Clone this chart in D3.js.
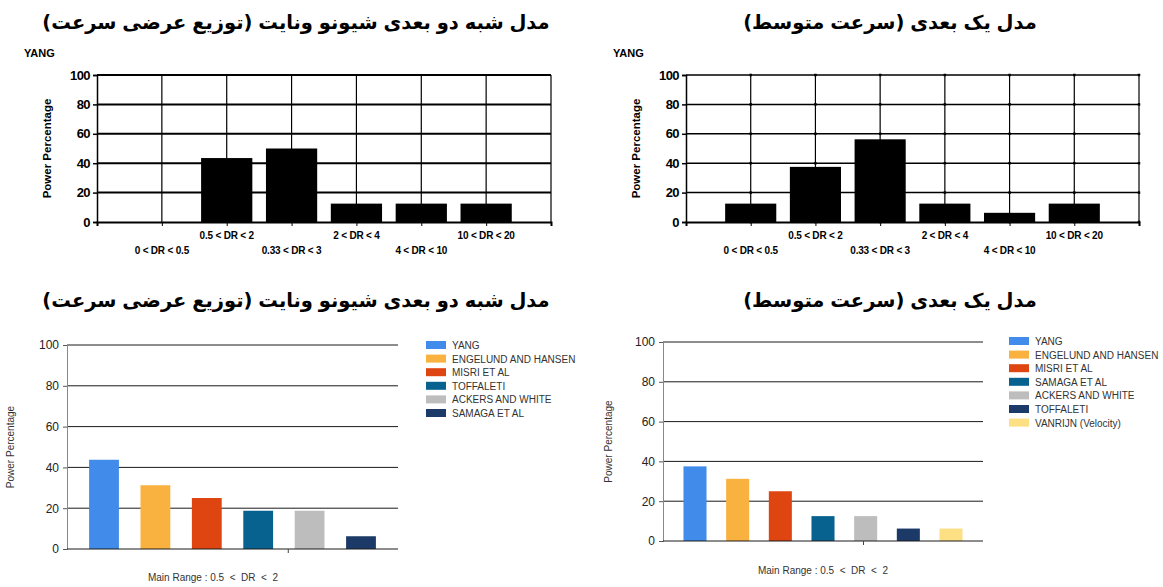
<!DOCTYPE html>
<html>
<head>
<meta charset="utf-8">
<script src="https://cdn.jsdelivr.net/npm/d3@7"></script>
<style>
  html, body { margin: 0; padding: 0; background: #fff; }
  svg { display: block; }
</style>
</head>
<body>
<svg id="chart" width="1163" height="587"></svg>
<script>
// ---------- DATA ----------
const titleLeft = "مدل شبه دو بعدی شیونو ونایت (توزیع عرضی سرعت)";
const titleRight = "مدل یک بعدی (سرعت متوسط)";

const rangeCategories = ["0 < DR < 0.5", "0.5 < DR < 2", "0.33 < DR < 3", "2 < DR < 4", "4 < DR < 10", "10 < DR < 20"];
const yangTwoDim = [0, 43.5, 50, 12.5, 12.5, 12.5];
const yangOneDim = [12.5, 37.5, 56.25, 12.5, 6.25, 12.5];

const methodsLeft = ["YANG", "ENGELUND AND HANSEN", "MISRI ET AL", "TOFFALETI", "ACKERS AND WHITE", "SAMAGA ET AL"];
const valuesLeft = [43.75, 31.25, 25, 18.75, 18.75, 6.25];
const methodsRight = ["YANG", "ENGELUND AND HANSEN", "MISRI ET AL", "SAMAGA ET AL", "ACKERS AND WHITE", "TOFFALETI", "VANRIJN (Velocity)"];
const valuesRight = [37.5, 31.25, 25, 12.5, 12.5, 6.25, 6.25];

const palette = ["#418BEA", "#F9B140", "#DE4511", "#07628F", "#BDBDBD", "#1C3A68", "#FDDF84"];
const yTicks = [0, 20, 40, 60, 80, 100];
const mainRangeLabel = "Main Range : 0.5  <  DR  <  2";
const yTitle = "Power Percentage";
const topSeriesLabel = "YANG";

// ---------- DRAW ----------
const svg = d3.select("#chart");
svg.append("rect").attr("width", 1163).attr("height", 587).attr("fill", "#fff");

const persianFont = "'DejaVu Sans', 'Noto Sans', sans-serif";
const latinFont = "'Liberation Sans', Arial, sans-serif";

function title(text, cx, y) {
  svg.append("text")
    .attr("x", cx).attr("y", y)
    .attr("text-anchor", "middle")
    .attr("direction", "rtl")
    .attr("font-family", persianFont)
    .attr("font-weight", "bold")
    .attr("font-size", 19.5)
    .attr("word-spacing", -1)
    .attr("fill", "#000")
    .text(text);
}

title(titleLeft, 296, 29);
title(titleRight, 890, 29);
title(titleLeft, 296, 307);
title(titleRight, 890, 307);

// Top (classic) charts
function topChart(cfg) {
  const g = svg.append("g");
  const x = d3.scaleLinear().domain([0, rangeCategories.length + 1]).range([cfg.x0, cfg.x1]);
  const y = d3.scaleLinear().domain([0, 100]).range([cfg.y0, cfg.y1]);
  const step = x(1) - x(0);
  const bw = step * 0.79;

  g.selectAll(".vg").data(d3.range(1, rangeCategories.length + 2)).join("line")
    .attr("x1", d => x(d)).attr("x2", d => x(d))
    .attr("y1", y(0)).attr("y2", y(100))
    .attr("stroke", "#000").attr("stroke-width", 1.2);
  g.selectAll(".hg").data(yTicks.filter(d => d > 0)).join("line")
    .attr("x1", x(0)).attr("x2", x(rangeCategories.length + 1))
    .attr("y1", d => y(d)).attr("y2", d => y(d))
    .attr("stroke", "#000").attr("stroke-width", cfg.hw);

  g.selectAll(".bar").data(cfg.values).join("rect")
    .attr("x", (d, i) => x(i + 1) - bw / 2)
    .attr("width", bw)
    .attr("y", d => y(d))
    .attr("height", d => y(0) - y(d))
    .attr("fill", "#000");

  if (cfg.markers) {
    const pts = [];
    d3.range(1, rangeCategories.length + 2).forEach(c => yTicks.forEach(t => pts.push([c, t])));
    g.selectAll(".mk").data(pts).join("rect")
      .attr("x", d => x(d[0]) - 1.25).attr("y", d => y(d[1]) - 1.25)
      .attr("width", 2.5).attr("height", 2.5).attr("fill", "#000");
  }

  const ya = g.append("g").attr("transform", `translate(${cfg.x0},0)`)
    .call(d3.axisLeft(y).tickValues(yTicks).tickSize(4).tickPadding(3));
  ya.select(".domain").attr("stroke", "#000").attr("stroke-width", 1.5);
  ya.selectAll(".tick line").attr("stroke", "#000").attr("stroke-width", 1.5);
  ya.selectAll("text").attr("font-family", latinFont).attr("font-weight", "bold")
    .attr("font-size", 13).attr("fill", "#000").attr("letter-spacing", -0.6);

  const xa = g.append("g").attr("transform", `translate(0,${cfg.y0})`)
    .call(d3.axisBottom(x).tickValues(d3.range(0, rangeCategories.length + 2)).tickSize(4).tickFormat(""));
  xa.select(".domain").attr("stroke", "#000").attr("stroke-width", 2);
  xa.selectAll(".tick line").attr("stroke", "#000").attr("stroke-width", 1);

  g.selectAll(".cl").data(rangeCategories).join("text")
    .attr("x", (d, i) => x(i + 1))
    .attr("y", (d, i) => i % 2 === 1 ? cfg.y0 + 17 : cfg.y0 + 32)
    .attr("text-anchor", "middle")
    .attr("font-family", latinFont).attr("font-weight", "bold")
    .attr("font-size", 10).attr("fill", "#000")
    .attr("letter-spacing", -0.2)
    .text(d => d);

  g.append("text")
    .attr("transform", `translate(${cfg.x0 - 46},${(cfg.y0 + cfg.y1) / 2}) rotate(-90)`)
    .attr("text-anchor", "middle")
    .attr("font-family", latinFont).attr("font-weight", "bold")
    .attr("font-size", 11.5).attr("fill", "#000")
    .text(yTitle);

  g.append("text")
    .attr("x", cfg.x0 - 73).attr("y", cfg.y1 - 18)
    .attr("font-family", latinFont).attr("font-weight", "bold")
    .attr("font-size", 11).attr("fill", "#000")
    .text(topSeriesLabel);
}

topChart({ x0: 97, x1: 551, y0: 222, y1: 75, values: yangTwoDim, hw: 2, markers: false });
topChart({ x0: 686, x1: 1139, y0: 222, y1: 75, values: yangOneDim, hw: 1.5, markers: true });

// Bottom (modern) charts
function bottomChart(cfg) {
  const g = svg.append("g");
  const x = d3.scaleBand().domain(cfg.names).range([cfg.x0, cfg.x1])
    .paddingInner(cfg.pi).paddingOuter(cfg.po);
  const y = d3.scaleLinear().domain([0, 100]).range([cfg.y0, cfg.y1]);
  const color = d3.scaleOrdinal().domain(cfg.names).range(palette);

  g.selectAll(".hg").data(yTicks.filter(d => d > 0)).join("line")
    .attr("x1", cfg.x0).attr("x2", cfg.x1)
    .attr("y1", d => y(d)).attr("y2", d => y(d))
    .attr("stroke", "#1a1a1a").attr("stroke-width", 1);

  g.selectAll(".bar").data(cfg.values).join("rect")
    .attr("x", (d, i) => x(cfg.names[i]))
    .attr("width", x.bandwidth())
    .attr("y", d => y(d))
    .attr("height", d => y(0) - y(d))
    .attr("fill", (d, i) => color(cfg.names[i]));

  const ya = g.append("g").attr("transform", `translate(${cfg.x0},0)`)
    .call(d3.axisLeft(y).tickValues(yTicks).tickSize(4).tickPadding(4));
  ya.select(".domain").attr("stroke", "#888").attr("stroke-width", 1);
  ya.selectAll(".tick line").attr("stroke", "#555");
  ya.selectAll("text").attr("font-family", latinFont)
    .attr("font-size", 12).attr("fill", "#222");

  const xa = g.append("g").attr("transform", `translate(0,${cfg.y0})`)
    .call(d3.axisBottom(d3.scaleLinear().domain([0, 1]).range([cfg.x0, cfg.x1]))
      .tickValues([cfg.tickFrac]).tickSize(4).tickFormat(""));
  xa.select(".domain").attr("stroke", "#1a1a1a").attr("stroke-width", 1).attr("d", `M${cfg.x0},0H${cfg.x1}`);
  xa.selectAll(".tick line").attr("stroke", "#444");

  g.append("text")
    .attr("transform", `translate(${cfg.ytx},${(cfg.y0 + cfg.y1) / 2}) rotate(-90)`)
    .attr("text-anchor", "middle")
    .attr("font-family", latinFont)
    .attr("font-size", 10).attr("fill", "#333")
    .text(yTitle);

  g.append("text")
    .attr("x", cfg.mrx).attr("y", cfg.mry)
    .attr("text-anchor", "middle")
    .attr("font-family", latinFont)
    .attr("font-size", 10).attr("fill", "#333")
    .attr("xml:space", "preserve")
    .style("white-space", "pre")
    .text(mainRangeLabel);

  const lg = g.append("g").attr("transform", `translate(${cfg.lx},${cfg.ly})`);
  const items = lg.selectAll(".li").data(cfg.names).join("g")
    .attr("transform", (d, i) => `translate(0,${i * 13.6})`);
  items.append("rect").attr("x", 0).attr("y", -4).attr("width", 20).attr("height", 8)
    .attr("fill", d => color(d));
  items.append("text").attr("x", 26).attr("y", 4)
    .attr("font-family", latinFont).attr("font-size", 10).attr("fill", "#333")
    .text(d => d);
}

bottomChart({ names: methodsLeft, values: valuesLeft, x0: 67, x1: 398, y0: 549, y1: 345,
  pi: 0.42, po: 0.43, tickFrac: 0.667, ytx: 14, mrx: 213, mry: 581, lx: 426, ly: 345 });
bottomChart({ names: methodsRight, values: valuesRight, x0: 663, x1: 983, y0: 541, y1: 342,
  pi: 0.46, po: 0.48, tickFrac: 0.625, ytx: 612, mrx: 823, mry: 574, lx: 1009, ly: 341 });
</script>
</body>
</html>
